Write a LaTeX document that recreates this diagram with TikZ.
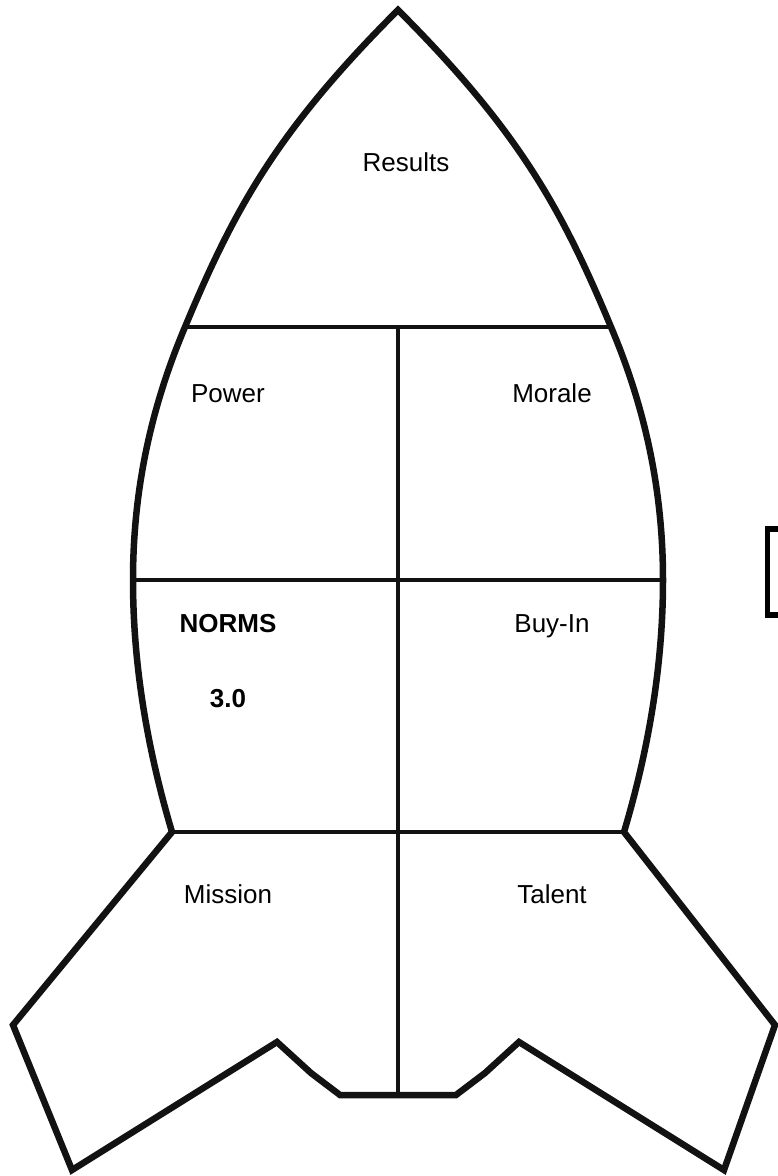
\documentclass[tikz,border=0pt]{standalone}
\usepackage{fontspec}
\setmainfont{Liberation Sans}
\begin{document}
\begin{tikzpicture}[x=1pt,y=-1pt,
  outerline/.style={line width=6.5pt,line join=miter,draw=black!93},
  innerline/.style={line width=4.5pt,draw=black!93},
  lbl/.style={anchor=base,inner sep=0pt,font=\fontsize{26}{30}\selectfont},
  blbl/.style={lbl,font=\fontsize{26}{30}\selectfont\bfseries}]
\useasboundingbox (0,0) rectangle (777,1176);
\fill[white] (0,0) rectangle (777,1176);
% key points
\coordinate (tip) at (398,10);
\coordinate (tl) at (185,327); \coordinate (tr) at (611,327);
\coordinate (ml) at (133,580); \coordinate (mr) at (663,580);
\coordinate (bl) at (172,832); \coordinate (br) at (624,832);
\coordinate (vt) at (398,327); \coordinate (vb) at (398,1095);
% inner lines
\draw[innerline] (tl) -- (tr);
\draw[innerline] (ml) -- (mr);
\draw[innerline] (bl) -- (br);
\draw[innerline] (vt) -- (vb);
% outline
\draw[outerline]
  (tip) .. controls (278,130) and (235,207) .. (tl)
  .. controls (149,412) and (133,495) .. (ml)
  .. controls (133,664) and (147,748) .. (bl)
  -- (13,1025) -- (72,1170) -- (277,1042) -- (311,1073) -- (340,1095)
  -- (456,1095) -- (485,1073) -- (519,1042) -- (724,1170) -- (775,1025)
  -- (br) .. controls (649,748) and (663,664) .. (mr)
  .. controls (663,495) and (647,412) .. (tr)
  .. controls (561,207) and (518,130) .. (tip) -- cycle;
% partial box at right edge
\draw[line width=5.5pt,line join=miter] (790,529) -- (767.5,529) -- (767.5,615) -- (790,615);
% labels
\node[lbl] (results) at (406,171) {Results};
\node[lbl] (power) at (228,402) {Power};
\node[lbl] (morale) at (552,402) {Morale};
\node[blbl] (norms) at (228,632) {NORMS};
\node[blbl] (ver) at (228,707) {3.0};
\node[lbl] (buyin) at (552,632) {Buy-In};
\node[lbl] (mission) at (228,903) {Mission};
\node[lbl] (talent) at (552,903) {Talent};
\end{tikzpicture}
\end{document}
